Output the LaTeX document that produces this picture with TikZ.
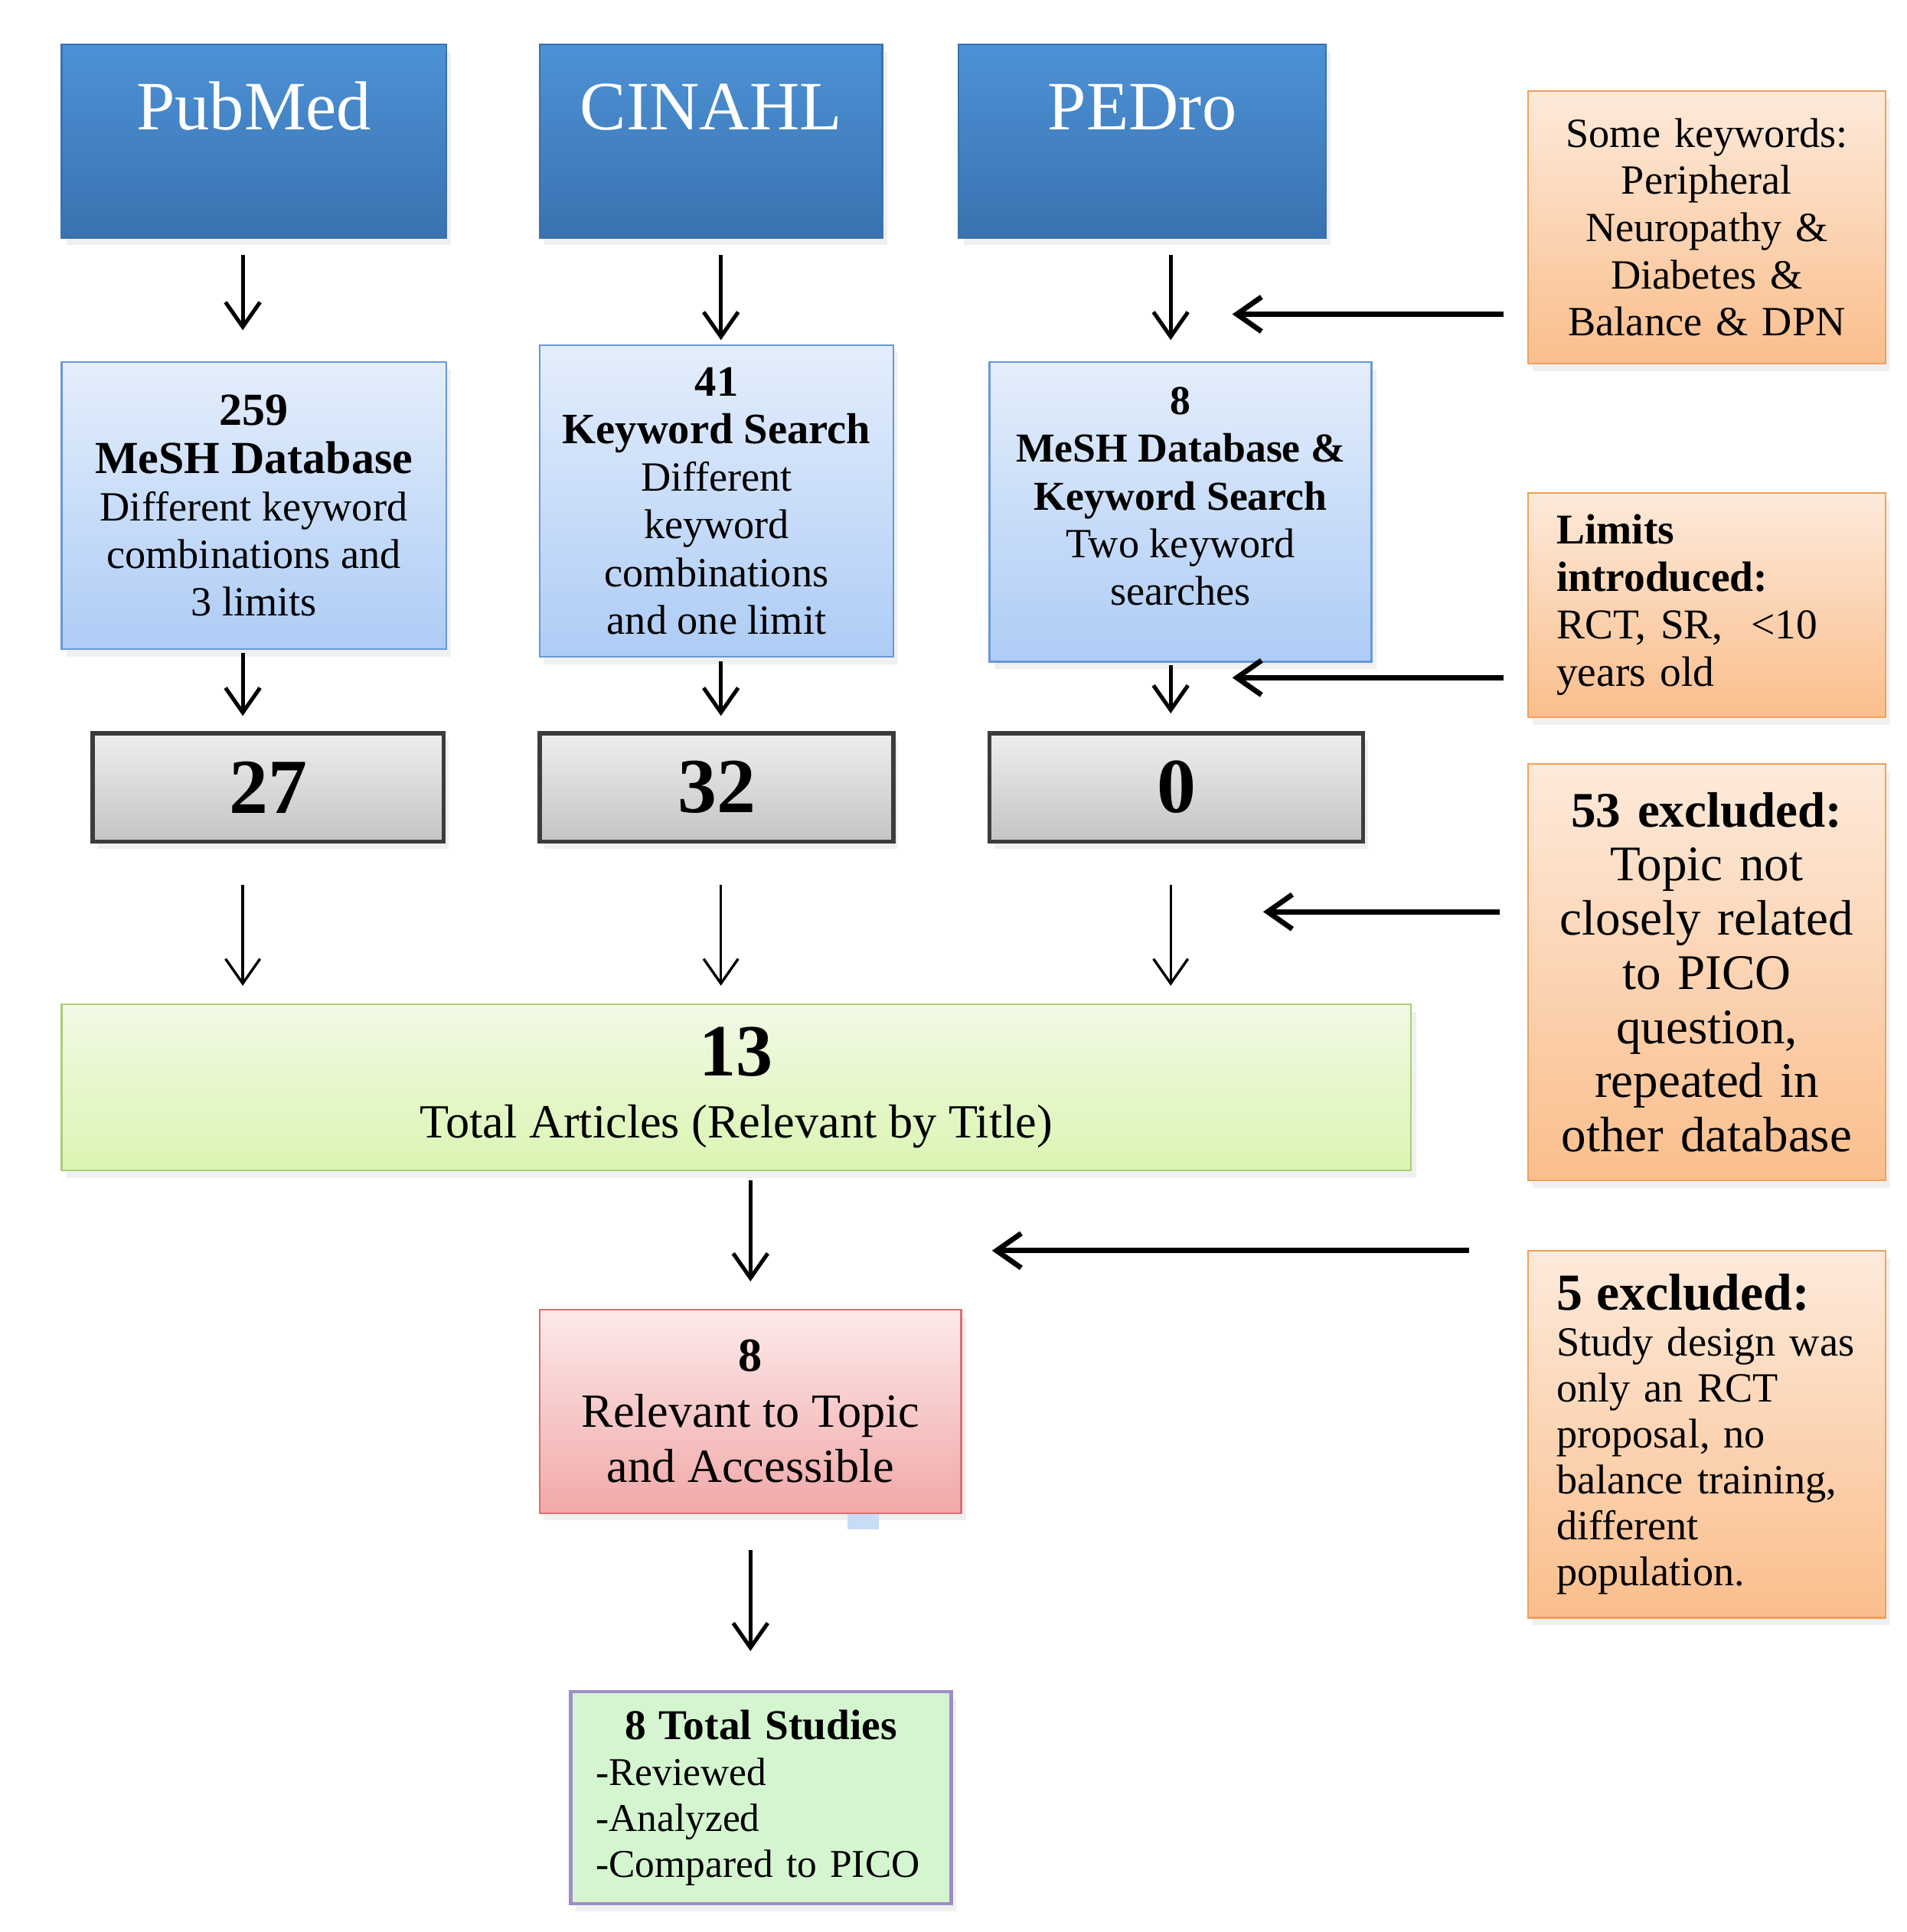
\documentclass[tikz,border=0pt]{standalone}
\usepackage{fontspec}
\setmainfont{Liberation Serif}
\usetikzlibrary{arrows.meta,shadows}

\definecolor{headtop}{RGB}{76,146,214}
\definecolor{headbot}{RGB}{58,114,176}
\definecolor{srchtop}{RGB}{228,238,251}
\definecolor{srchbot}{RGB}{174,204,246}
\definecolor{srchline}{RGB}{104,152,214}
\definecolor{cnttop}{RGB}{238,238,238}
\definecolor{cntbot}{RGB}{196,196,196}
\definecolor{cntline}{RGB}{60,60,60}
\definecolor{tottop}{RGB}{242,249,230}
\definecolor{totbot}{RGB}{218,245,178}
\definecolor{totline}{RGB}{170,206,120}
\definecolor{acctop}{RGB}{253,234,234}
\definecolor{accbot}{RGB}{241,168,168}
\definecolor{accline}{RGB}{216,112,112}
\definecolor{studfill}{RGB}{212,245,208}
\definecolor{studline}{RGB}{160,140,200}
\definecolor{notetop}{RGB}{253,234,219}
\definecolor{notebot}{RGB}{250,190,140}
\definecolor{noteline}{RGB}{240,160,90}
\definecolor{speck}{RGB}{200,220,246}

\newcommand{\boxhead}[2][10]{{\fontsize{#1}{11}\selectfont\bfseries #2}}

\begin{document}
\begin{tikzpicture}[x=0.1mm,y=-0.1mm,
		>={Straight Barb[length=2mm,width=2.8mm]}]
		\tikzstyle{box}=[draw,inner sep=0pt,outer sep=0pt,
							drop shadow={opacity=0.12,shadow xshift=0.4mm,shadow yshift=-0.6mm}]
		\tikzstyle{dbase}=[box,draw=headbot,top color=headtop,bottom color=headbot,
							text=white,font=\fontsize{16}{18}\selectfont,
							text height=6.9mm,text depth=8.8mm,anchor=north]
		\tikzstyle{search}=[box,draw=srchline,top color=srchtop,bottom color=srchbot,
							align=center,font=\fontsize{9.6}{11}\selectfont]
		\tikzstyle{count}=[box,draw=cntline,line width=1pt,top color=cnttop,bottom color=cntbot,
							minimum height=8.8mm,font=\fontsize{18}{20}\selectfont\bfseries]
		\tikzstyle{note}=[box,draw=noteline,top color=notetop,bottom color=notebot,
							minimum width=29mm,text width=24.4mm]
		\tikzstyle{flow}=[->,line width=0.9pt]
		\tikzstyle{thin}=[->,line width=0.6pt]
		\tikzstyle{side}=[->,line width=1.2pt]

		\useasboundingbox (0,0) rectangle (1547,1568);

		% databases
		\foreach \name/\x/\w/\txt in {pub/206/31.2/PubMed, cin/577/27.8/CINAHL, ped/927/29.8/PEDro}
			\node[dbase,minimum width=\w mm] (\name) at (\x,36) {\txt};

		% searches
		\node[search,minimum width=31.2mm,minimum height=23.3mm] (pubsrch) at (206,410.5)
			{\boxhead[10.6]{259}\\\boxhead[10.6]{MeSH Database}\\Different keyword\\combinations and\\3 limits};
		\node[search,minimum width=28.7mm,minimum height=25.3mm] (cinsrch) at (581.5,406.5)
			{\boxhead{41}\\\boxhead{Keyword Search}\\Different\\keyword\\combinations\\and one limit};
		\node[search,minimum width=31mm,minimum height=24.3mm] (pedsrch) at (958,415.5)
			{\boxhead[9.5]{8}\\\boxhead[9.5]{MeSH Database \&}\\\boxhead[9.5]{Keyword Search}\\Two keyword\\searches\\[-1.3mm]\mbox{}};

		% hits
		\foreach \name/\x/\w/\num in {pubhits/217.5/28.5/27, cinhits/581.5/28.7/32, pedhits/954.5/30.3/0}
			\node[count,minimum width=\w mm] (\name) at (\x,639) {\num};

		% merged
		\node[box,draw=totline,top color=tottop,bottom color=totbot,
			minimum width=109.5mm,minimum height=13.5mm,align=center] (total) at (597.5,882.5)
			{{\fontsize{17}{19}\selectfont\bfseries 13}\\[0.8mm]{\fontsize{11}{13}\selectfont Total Articles (Relevant by Title)}};
		\node[box,draw=accline,top color=acctop,bottom color=accbot,
			minimum width=34.2mm,minimum height=16.5mm,align=center,
			font=\fontsize{11}{12.8}\selectfont] (access) at (609,1145.5)
			{\textbf{8}\\Relevant to Topic\\and Accessible};
		\fill[speck] (688,1229) rectangle (713,1241);
		\node[box,draw=studline,line width=0.8pt,fill=studfill,
			minimum width=30.9mm,minimum height=17.2mm,text width=26.8mm,align=left,
			font=\fontsize{9.1}{10.6}\selectfont] (studies) at (617.5,1459)
			{\makebox[\linewidth]{\boxhead[9.8]{8 Total Studies}}\\-Reviewed\\-Analyzed\\-Compared to PICO};

		% side notes
		\node[note,minimum height=22.1mm,align=center,font=\fontsize{9.6}{10.9}\selectfont] (keywords) at (1385,184.5)
			{Some keywords:\\Peripheral\\Neuropathy \&\\Diabetes \&\\Balance \& DPN};
		\node[note,minimum height=18.2mm,align=left,font=\fontsize{9.8}{11}\selectfont] (limits) at (1385,491)
			{\textbf{Limits}\\\textbf{introduced:}\\RCT, SR, \ <10\\years old};
		\node[note,minimum height=33.8mm,align=center,font=\fontsize{11.5}{12.5}\selectfont] (excla) at (1385,789)
			{\textbf{53 excluded:}\\Topic not\\closely related\\to PICO\\question,\\repeated in\\other database};
		\node[note,minimum height=29.8mm,align=left,font=\fontsize{9.6}{10.6}\selectfont] (exclb) at (1385,1164)
			{{\fontsize{12}{13}\selectfont\bfseries 5 excluded:}\\Study design was\\only an RCT\\proposal, no\\balance training,\\different\\population.};

		% columns
		\coordinate (c1) at (197,0);
		\coordinate (c2) at (585,0);
		\coordinate (c3) at (950,0);

		% down arrows
		\draw[flow,shorten <=1.4mm,shorten >=2.6mm] (pub.south -| c1) -- (pubsrch.north -| c1);
		\draw[flow,shorten <=1.4mm,shorten >=0.4mm] (cin.south -| c2) -- (cinsrch.north -| c2);
		\draw[flow,shorten <=1.4mm,shorten >=1.8mm] (ped.south -| c3) -- (pedsrch.north -| c3);
		\draw[flow,shorten <=0.3mm,shorten >=1.4mm] (pubsrch.south -| c1) -- (pubhits.north -| c1);
		\draw[flow,shorten <=0.4mm,shorten >=1.4mm] (cinsrch.south -| c2) -- (cinhits.north -| c2);
		\draw[flow,shorten <=0.3mm,shorten >=1.6mm] (pedsrch.south -| c3) -- (pedhits.north -| c3);
		\foreach \hits/\col in {pubhits/c1, cinhits/c2, pedhits/c3}
			\draw[thin,shorten <=3.5mm,shorten >=1.5mm] (\hits.south -| \col) -- (total.north -| \col);
		\draw[flow,shorten <=0.8mm,shorten >=2.3mm] (total.south -| access.north) -- (access.north);
		\draw[flow,shorten <=3mm,shorten >=3.3mm] (access.south) -- (studies.north -| access.south);

		% side arrows
		\coordinate (h1) at (1000,255);
		\coordinate (h2) at (1000,550);
		\coordinate (h3) at (1025,740);
		\coordinate (h4) at (805,1015);
		\draw[side,shorten <=2mm] (keywords.west |- h1) -- (h1);
		\draw[side,shorten <=2mm] (limits.west |- h2) -- (h2);
		\draw[side,shorten <=2.3mm] (excla.west |- h3) -- (h3);
		\draw[side,shorten <=4.8mm] (exclb.west |- h4) -- (h4);
	\end{tikzpicture}
\end{document}
